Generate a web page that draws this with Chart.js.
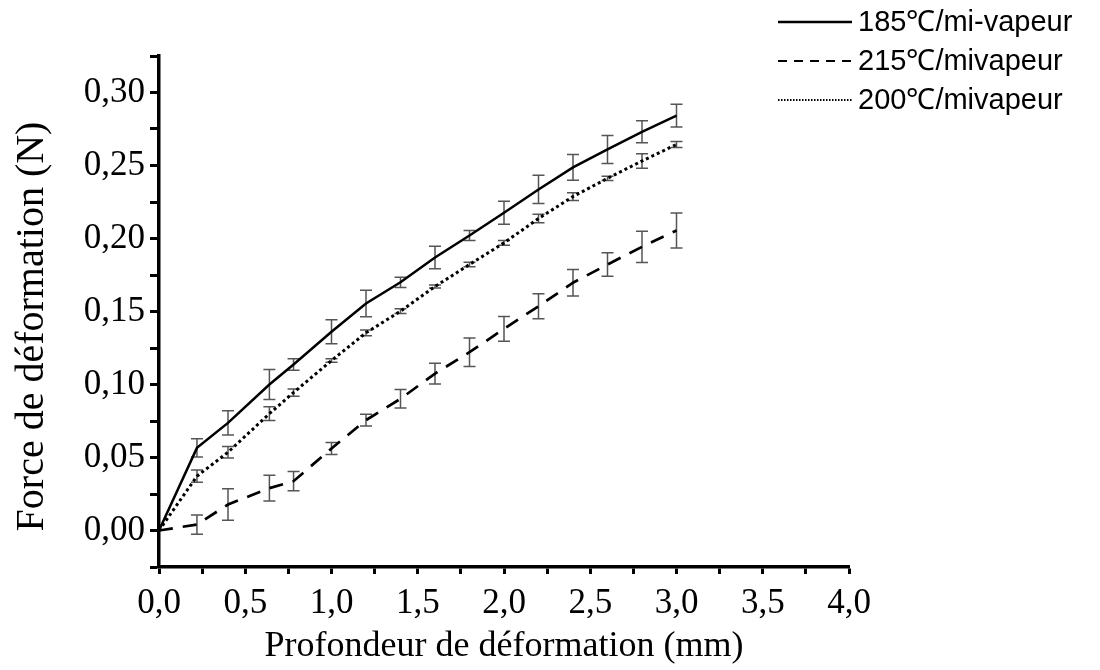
<!DOCTYPE html>
<html>
<head>
<meta charset="utf-8">
<script src="https://cdn.jsdelivr.net/npm/chart.js@4.4.0/dist/chart.umd.min.js"></script>
<style>
  body { margin: 0; background: #fff; }
  #wrap { width: 1100px; height: 670px; }
</style>
</head>
<body>
<div id="wrap"><canvas id="chart" width="1100" height="670"></canvas></div>
<script>
// Profondeur de déformation (mm)
const depth = [0, 0.22, 0.4, 0.64, 0.78, 1.0, 1.2, 1.4, 1.6, 1.8, 2.0, 2.2, 2.4, 2.6, 2.8, 3.0];

// Force (N) + error (+/-) for each treatment
const force185 = [0, 0.0566, 0.0737, 0.100, 0.1137, 0.1361, 0.1555, 0.1700, 0.1870, 0.2021, 0.2176, 0.2336, 0.2487, 0.2610, 0.2731, 0.2842];
const err185   = [0, 0.0063, 0.0083, 0.0103, 0.0040, 0.0082, 0.0091, 0.0035, 0.0077, 0.0034, 0.0079, 0.0097, 0.0088, 0.0096, 0.0076, 0.0078];

const force215 = [0, 0.0041, 0.0178, 0.0290, 0.0338, 0.0562, 0.0756, 0.0902, 0.1075, 0.1221, 0.1381, 0.1536, 0.1697, 0.1822, 0.1943, 0.2055];
const err215   = [0, 0.0066, 0.0108, 0.0088, 0.0066, 0.0041, 0.0040, 0.0063, 0.0071, 0.0097, 0.0084, 0.0086, 0.0091, 0.0080, 0.0107, 0.0120];

const force200 = [0, 0.0372, 0.0536, 0.0800, 0.0945, 0.1164, 0.1354, 0.1502, 0.1671, 0.1822, 0.1970, 0.2137, 0.2287, 0.2412, 0.2531, 0.2644];
const err200   = [0, 0.0042, 0.0039, 0.0047, 0.0025, 0.0012, 0.0020, 0.0016, 0.0010, 0.0016, 0.0017, 0.0029, 0.0027, 0.0015, 0.0049, 0.0020];

const seriesNames = ['185℃/mi-vapeur', '215℃/mivapeur', '200℃/mivapeur'];

const toPoints = ys => ys.map((v, i) => ({ x: depth[i], y: v }));

// Error bars, drawn under the lines
const errorBars = {
  id: 'errorBars',
  beforeDatasetsDraw(chart) {
    const { ctx, scales: { x, y } } = chart;
    ctx.save();
    ctx.strokeStyle = '#555';
    ctx.lineWidth = 1.5;
    chart.data.datasets.forEach(ds => {
      ds.errors.forEach((e, i) => {
        if (!e) return;
        const px = x.getPixelForValue(depth[i]);
        const top = y.getPixelForValue(ds.data[i].y + e);
        const bot = y.getPixelForValue(ds.data[i].y - e);
        ctx.beginPath();
        ctx.moveTo(px, top); ctx.lineTo(px, bot);
        ctx.moveTo(px - 6, top); ctx.lineTo(px + 6, top);
        ctx.moveTo(px - 6, bot); ctx.lineTo(px + 6, bot);
        ctx.stroke();
      });
    });
    ctx.restore();
  }
};

// Legend in the top right corner, one row per series
const sideLegend = {
  id: 'sideLegend',
  afterDraw(chart) {
    const ctx = chart.ctx;
    ctx.save();
    ctx.font = '29px "Liberation Sans", Arial, sans-serif';
    ctx.textBaseline = 'middle';
    ctx.fillStyle = '#000';
    ctx.strokeStyle = '#000';
    chart.data.datasets.forEach((ds, i) => {
      const yy = 22 + i * 39;
      ctx.beginPath();
      ctx.lineWidth = ds.legendWidth;
      ctx.setLineDash(ds.legendDash);
      ctx.moveTo(778, yy);
      ctx.lineTo(852, yy);
      ctx.stroke();
      ctx.setLineDash([]);
      ctx.fillText(ds.label, 858, yy + 1);
    });
    ctx.restore();
  }
};

Chart.defaults.font.family = '"Liberation Serif", "Times New Roman", serif';
Chart.defaults.color = '#000';

const noPad = s => { s.paddingTop = 0; s.paddingBottom = 0; s.paddingLeft = 0; s.paddingRight = 0; };

new Chart(document.getElementById('chart'), {
  type: 'line',
  data: {
    datasets: [
      {
        label: seriesNames[0], data: toPoints(force185), errors: err185,
        borderColor: '#000', borderWidth: 2.5, borderDash: [],
        legendDash: [], legendWidth: 2.5
      },
      {
        label: seriesNames[1], data: toPoints(force215), errors: err215,
        borderColor: '#000', borderWidth: 2.7, borderDash: [14, 10],
        legendDash: [9, 7], legendWidth: 2
      },
      {
        label: seriesNames[2], data: toPoints(force200), errors: err200,
        borderColor: '#000', borderWidth: 3, borderDash: [3, 3],
        legendDash: [1.5, 1.5], legendWidth: 1.8
      }
    ]
  },
  options: {
    responsive: false,
    animation: false,
    layout: { padding: { top: 56, right: 251, left: 0, bottom: 0 } },
    elements: { point: { radius: 0 }, line: { tension: 0, fill: false } },
    plugins: { legend: { display: false }, tooltip: { enabled: false } },
    scales: {
      x: {
        type: 'linear', min: 0, max: 4,
        border: { display: true, color: '#000', width: 3.5 },
        grid: { drawOnChartArea: false, drawTicks: true, tickLength: 7, tickWidth: 3, color: '#000' },
        ticks: {
          stepSize: 0.25, autoSkip: false, maxRotation: 0, maxTicksLimit: 30, padding: 9,
          font: { size: 35 },
          callback: v => Math.round(v * 100) % 50 === 0 ? v.toFixed(1).replace('.', ',') : ''
        },
        title: { display: true, text: 'Profondeur de déformation (mm)', font: { size: 36 }, padding: { top: 0, bottom: 2 } },
        afterFit: s => { noPad(s); s.height = 103; }
      },
      y: {
        type: 'linear', min: -0.025, max: 0.325,
        border: { display: true, color: '#000', width: 3.5 },
        grid: { drawOnChartArea: false, drawTicks: true, tickLength: 9, tickWidth: 3, color: '#000' },
        ticks: {
          stepSize: 0.025, autoSkip: false, maxTicksLimit: 30, padding: 5,
          font: { size: 35 },
          callback: v => Math.round(v * 1000) % 50 === 0 ? v.toFixed(2).replace('.', ',') : ''
        },
        title: { display: true, text: 'Force de déformation (N)\u00a0\u00a0\u00a0', font: { size: 40 }, padding: { top: 8, bottom: 0 } },
        afterFit: s => { noPad(s); s.width = 159; }
      }
    }
  },
  plugins: [errorBars, sideLegend]
});
</script>
</body>
</html>
